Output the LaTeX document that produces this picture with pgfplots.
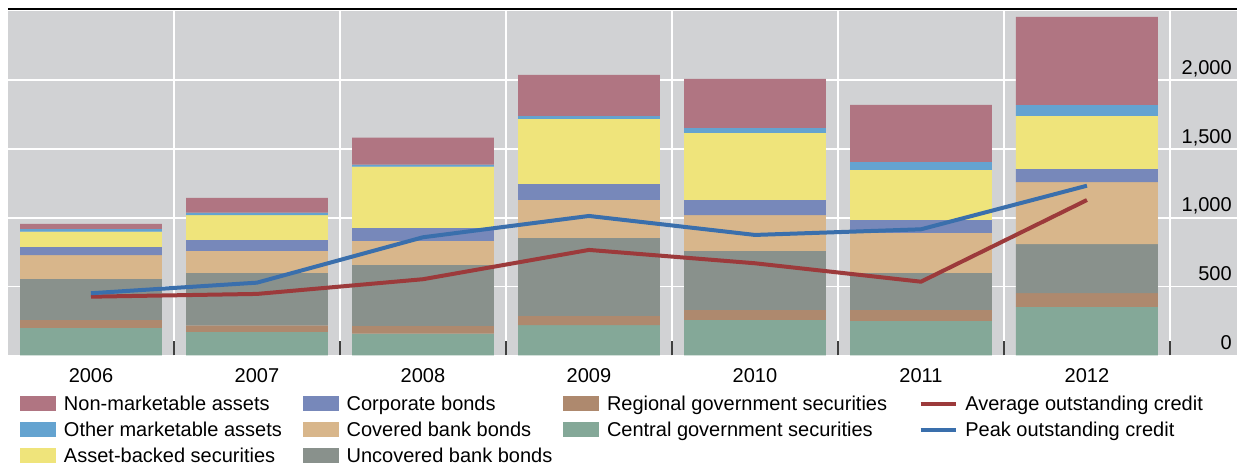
\documentclass[border=0pt]{standalone}
\usepackage{fontspec}
\setmainfont{Liberation Sans}
\usepackage{pgfplots}
\usepackage{pgfplotstable}
\pgfplotsset{compat=1.18}
\definecolor{cNon}{HTML}{B07582}
\definecolor{cOth}{HTML}{64A3D0}
\definecolor{cAbs}{HTML}{EFE47B}
\definecolor{cCor}{HTML}{7788BA}
\definecolor{cCov}{HTML}{D8B68B}
\definecolor{cUnc}{HTML}{89918C}
\definecolor{cReg}{HTML}{AE896E}
\definecolor{cCen}{HTML}{84A898}
\definecolor{cAvg}{HTML}{9C3A3B}
\definecolor{cPk}{HTML}{3A6FAC}
\definecolor{cBg}{HTML}{D1D2D4}
\newcommand{\lstrut}{\rule[-1pt]{0pt}{10pt}}
\pgfplotstableread{
x cen reg unc cov cor abs oth non avg peak
0 199 58 298 174 59 111 20 36 426 451
1 170 48 381 160 80 181 17 107 446 528
2 157 56 444 174 95 446 14 197 553 858
3 220 66 567 277 116 473 21 299 766 1013
4 257 73 429 261 110 487 36 357 669 875
5 250 80 269 291 94 364 58 414 535 916
6 351 100 358 451 95 386 80 640 1129 1233
}\datatable
\begin{document}
\fontsize{12}{16}\selectfont
\begin{tikzpicture}
\begin{axis}[
  name=ax,
  scale only axis, width=737.4pt, height=206.25pt,
  xmin=-0.5, xmax=6.904, ymin=0, ymax=2500,
  ybar stacked, bar width=0.855,
  reverse stacked plots=false,
  axis background/.style={fill=cBg},
  axis line style={draw=none},
  xtick={0,...,6}, xticklabels={2006,2007,2008,2009,2010,2011,2012},
  minor xtick={0.5,1.5,...,6.5},
  ytick={0,500,1000,1500,2000}, yticklabels={0,500,{1,000},{1,500},{2,000}},
  major tick length=0pt, minor tick length=8.4pt, tick align=inside,
  tick pos=left,
  ymajorgrids, xminorgrids,
  major grid style={white, line width=0.9pt},
  minor grid style={white, line width=0.9pt},
  minor tick style={black!75, line width=1pt},
  yticklabel pos=right,
  yticklabel style={anchor=base east, inner sep=0pt, xshift=-3pt, yshift=3.5pt},
  xticklabel style={anchor=north, inner sep=0pt, yshift=-7.6pt},
  legend columns=4,
  legend cell align=left,
  legend style={at={(0,0)}, anchor=north west, xshift=7.2pt, yshift=-24pt,
    draw=none, fill=none, inner sep=0pt, column sep=0pt, row sep=4.9pt,
    nodes={inner sep=0pt}},
]
\addplot[fill=cCen, draw=none, forget plot] table[x=x,y=cen]{\datatable};
\addplot[fill=cReg, draw=none, forget plot] table[x=x,y=reg]{\datatable};
\addplot[fill=cUnc, draw=none, forget plot] table[x=x,y=unc]{\datatable};
\addplot[fill=cCov, draw=none, forget plot] table[x=x,y=cov]{\datatable};
\addplot[fill=cCor, draw=none, forget plot] table[x=x,y=cor]{\datatable};
\addplot[fill=cAbs, draw=none, forget plot] table[x=x,y=abs]{\datatable};
\addplot[fill=cOth, draw=none, forget plot] table[x=x,y=oth]{\datatable};
\addplot[fill=cNon, draw=none, forget plot] table[x=x,y=non]{\datatable};
\addplot[stack plots=false, sharp plot, draw=cAvg, line width=2.4pt, forget plot] table[x=x,y=avg]{\datatable};
\addplot[stack plots=false, sharp plot, draw=cPk, line width=2.4pt, forget plot] table[x=x,y=peak]{\datatable};
% legend, row by row
\addlegendimage{legend image code/.code={\fill[cNon] (0pt,-3.2pt) rectangle (21pt,5pt);}}
\addlegendentry{\makebox[148.2pt][l]{\hspace{4.8pt}\lstrut Non-marketable assets}}
\addlegendimage{legend image code/.code={\fill[cCor] (0pt,-3.2pt) rectangle (21pt,5pt);}}
\addlegendentry{\makebox[134.8pt][l]{\hspace{4.8pt}\lstrut Corporate bonds}}
\addlegendimage{legend image code/.code={\fill[cReg] (0pt,-3.2pt) rectangle (21pt,5pt);}}
\addlegendentry{\makebox[192pt][l]{\hspace{4.8pt}\lstrut Regional government securities}}
\addlegendimage{legend image code/.code={\draw[cAvg, line width=2pt] (0pt,0.4pt) -- (21pt,0.4pt);}}
\addlegendentry{\hspace{4.8pt}\lstrut Average outstanding credit}
\addlegendimage{legend image code/.code={\fill[cOth] (0pt,-3.2pt) rectangle (21pt,5pt);}}
\addlegendentry{\makebox[148.2pt][l]{\hspace{4.8pt}\lstrut Other marketable assets}}
\addlegendimage{legend image code/.code={\fill[cCov] (0pt,-3.2pt) rectangle (21pt,5pt);}}
\addlegendentry{\makebox[134.8pt][l]{\hspace{4.8pt}\lstrut Covered bank bonds}}
\addlegendimage{legend image code/.code={\fill[cCen] (0pt,-3.2pt) rectangle (21pt,5pt);}}
\addlegendentry{\makebox[192pt][l]{\hspace{4.8pt}\lstrut Central government securities}}
\addlegendimage{legend image code/.code={\draw[cPk, line width=2pt] (0pt,0.4pt) -- (21pt,0.4pt);}}
\addlegendentry{\hspace{4.8pt}\lstrut Peak outstanding credit}
\addlegendimage{legend image code/.code={\fill[cAbs] (0pt,-3.2pt) rectangle (21pt,5pt);}}
\addlegendentry{\makebox[148.2pt][l]{\hspace{4.8pt}\lstrut Asset-backed securities}}
\addlegendimage{legend image code/.code={\fill[cUnc] (0pt,-3.2pt) rectangle (21pt,5pt);}}
\addlegendentry{\makebox[134.8pt][l]{\hspace{4.8pt}\lstrut Uncovered bank bonds}}
\addlegendimage{empty legend}
\addlegendentry{}
\addlegendimage{empty legend}
\addlegendentry{}
\end{axis}
\draw[black, line width=0.8pt] ([yshift=1.4pt]ax.north west) -- ([yshift=1.4pt]ax.north east);
\pgfresetboundingbox
\path[use as bounding box] ([xshift=-4.8pt, yshift=-67.6pt]ax.south west) rectangle ([yshift=6.9pt]ax.north east);
\end{tikzpicture}
\end{document}
